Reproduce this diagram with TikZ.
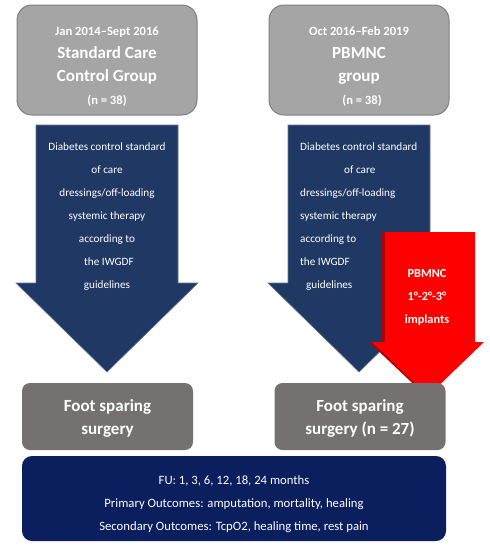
\documentclass[tikz,border=0pt]{standalone}
\usepackage{fontspec}
\setmainfont{Carlito}
\usetikzlibrary{positioning, calc}
\definecolor{boxgray}{HTML}{A5A5A5}
\definecolor{boxedge}{HTML}{808080}
\definecolor{surggray}{HTML}{767171}
\definecolor{arrownavy}{HTML}{203864}
\definecolor{funavy}{HTML}{0B1F5E}
\definecolor{implred}{HTML}{FF0000}
\definecolor{impledge}{HTML}{B00000}
\tikzset{
  topbox/.style  = {rectangle, rounded corners=15pt, draw=boxedge, line width=1pt,
                    fill=boxgray, minimum width=180pt, minimum height=110pt},
  toptxt/.style  = {align=center, text=white, inner sep=0pt,
                    font=\bfseries\fontsize{12.6}{23}\selectfont},
  surgbox/.style = {rectangle, rounded corners=8pt, fill=surggray,
                    minimum width=171pt, minimum height=67pt},
  surgtxt/.style = {align=center, text=white, inner sep=0pt,
                    font=\bfseries\fontsize{17}{23}\selectfont},
  fubox/.style   = {rectangle, rounded corners=10pt, fill=funavy,
                    minimum width=424pt, minimum height=85pt},
  futxt/.style   = {align=center, text=white, inner sep=0pt,
                    font=\fontsize{12.7}{23}\selectfont},
  flowtxt/.style = {text=white, inner sep=0pt, font=\fontsize{11.2}{23}\selectfont},
  impltxt/.style = {text=white, inner sep=0pt, align=center,
                    font=\bfseries\fontsize{12.3}{23}\selectfont},
  bigarrow/.style = {fill=arrownavy, draw=arrownavy!70!white, line width=0.6pt},
}
\newcommand{\bigline}[1]{{\fontsize{17}{23}\selectfont #1}}

\begin{document}
\begin{tikzpicture}[x=1pt, y=-1pt]
  \useasboundingbox (0,0) rectangle (490,550);

  % group boxes
  \node[topbox] (ctrl) at (107,60) {};
  \node[toptxt] (ctrltxt) at (107,67) {%
    Jan 2014--Sept 2016\\ \bigline{Standard Care}\\ \bigline{Control Group}\\
    (n = 38)};
  \node[topbox] (pbm) at (359,60) {};
  \node[toptxt] (pbmtxt) at (359,67) {%
    Oct 2016--Feb 2019\\ \bigline{PBMNC}\\ \bigline{group}\\
    \hspace*{6pt}(n = 38)};

  % treatment arrows
  \draw[bigarrow] (36,125) -- (178,125) -- (178,283) -- (198,283) -- (107,372)
    -- (16,283) -- (36,283) -- cycle;
  \draw[bigarrow] (288,125) -- (430,125) -- (430,283) -- (450,283) -- (359,372)
    -- (268,283) -- (288,283) -- cycle;

  \node[flowtxt, align=center] (ctrlcare) at (107,216.5) {%
    Diabetes control standard\\ of care\\ dressings/off-loading\\
    systemic therapy\\ according to\\ \hspace*{4pt}the IWGDF\\ guidelines};
  \node[flowtxt, align=left, anchor=west] (pbmcare) at (300,216.5) {%
    Diabetes control standard\\ \hspace*{44pt}of care\\ dressings/off-loading\\
    systemic therapy\\ according to\\ the IWGDF\\ \hspace*{6pt}guidelines};

  % implant arrow
  \fill[impledge] (382,232) -- (472,232) -- (472,342) -- (482,342) -- (426,396)
    -- (369,342) -- (382,342) -- cycle;
  \fill[implred] (385,232) -- (475,232) -- (475,342) -- (484,342) -- (428,396)
    -- (372,342) -- (385,342) -- cycle;
  \node[impltxt] (impl) at (427,297) {PBMNC\\ 1°-2°-3°\\ implants};

  % outcome boxes
  \node[surgbox] (ctrlsurg) at (107.5,416.5) {};
  \node[surgtxt] (ctrlsurgtxt) at (107.5,418.5) {Foot sparing\\ surgery};
  \node[surgbox] (pbmsurg) at (360,416.5) {};
  \node[surgtxt] (pbmsurgtxt) at (360,418.5) {Foot sparing\\ surgery (n = 27)};
  \node[fubox] (fu) at (234,498.5) {};
  \node[futxt] (futext) at (234,504.5) {%
    FU: 1, 3, 6, 12, 18, 24 months\\
    Primary Outcomes: amputation, mortality, healing\\
    Secondary Outcomes: TcpO2, healing time, rest pain};
\end{tikzpicture}
\end{document}
